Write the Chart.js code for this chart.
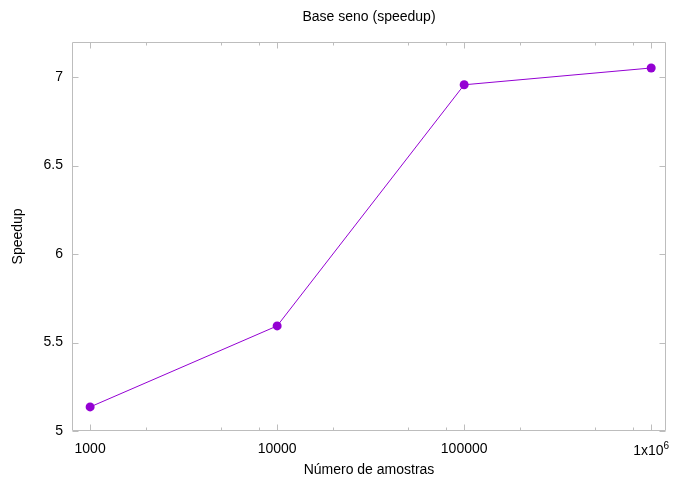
<!DOCTYPE html>
<html>
<head>
<meta charset="utf-8">
<script src="https://cdn.jsdelivr.net/npm/chart.js@4/dist/chart.umd.min.js"></script>
<style>
html,body{margin:0;padding:0;background:#fff;}
#wrap{width:673px;height:479px;}
</style>
</head>
<body>
<div id="wrap"><canvas id="c" width="673" height="479"></canvas></div>
<script>
const samples = [1000, 10000, 100000, 1000000];
const speedup = [5.136, 5.594, 6.957, 7.052];
const xMajorTicks = [1000, 10000, 100000, 1000000];
const xTickLabels = ['1000', '10000', '100000', ''];
const xSupLabelBase = '1x10';
const xSupLabelExp = '6';
const xMinorTicks = [2000, 5000, 8000, 20000, 50000, 80000, 200000, 500000, 800000];
const yTicks = [5, 5.5, 6, 6.5, 7];
const yTickLabels = ['5', '5.5', '6', '6.5', '7'];

const FONT = "'Liberation Sans', Arial, sans-serif";
const FRAME = '#bdbdbd';

const framePlugin = {
  id: 'frame',
  afterDatasetsDraw(chart) {
    const {ctx, chartArea: a, scales: {x, y}} = chart;
    ctx.save();
    ctx.strokeStyle = FRAME;
    ctx.lineWidth = 1;
    ctx.beginPath();
    const L = Math.round(a.left) + 0.5, R = Math.round(a.right) - 0.5;
    const T = Math.round(a.top) + 0.5, B = Math.round(a.bottom) - 0.5;
    ctx.rect(L, T, R - L, B - T);
    const vt = (px, len) => {
      const p = Math.round(px) + 0.5;
      ctx.moveTo(p, B); ctx.lineTo(p, B - len);
      ctx.moveTo(p, T); ctx.lineTo(p, T + len);
    };
    xMajorTicks.forEach(v => vt(x.getPixelForValue(v), 6));
    xMinorTicks.forEach(v => vt(x.getPixelForValue(v), 3));
    yTicks.forEach(v => {
      const p = Math.round(y.getPixelForValue(v)) + 0.5;
      ctx.moveTo(L, p); ctx.lineTo(L + 6, p);
      ctx.moveTo(R, p); ctx.lineTo(R - 6, p);
    });
    ctx.stroke();

    // 1x10^6 label with superscript
    const cx = x.getPixelForValue(xMajorTicks[3]);
    ctx.fillStyle = '#000';
    ctx.textBaseline = 'alphabetic';
    ctx.font = '14px ' + FONT;
    const wb = ctx.measureText(xSupLabelBase).width;
    ctx.font = '10px ' + FONT;
    const we = ctx.measureText(xSupLabelExp).width;
    const startX = cx - (wb + we) / 2;
    const baseY = a.bottom + 24;
    ctx.font = '14px ' + FONT;
    ctx.textAlign = 'left';
    ctx.fillText(xSupLabelBase, startX, baseY);
    ctx.font = '10px ' + FONT;
    ctx.fillText(xSupLabelExp, startX + wb, baseY - 6);
    ctx.restore();
  }
};

new Chart(document.getElementById('c'), {
  type: 'line',
  data: {
    datasets: [{
      data: samples.map((s, i) => ({x: s, y: speedup[i]})),
      borderColor: '#9400D3',
      backgroundColor: '#9400D3',
      borderWidth: 1,
      pointRadius: 4.5,
      pointBorderWidth: 0,
      pointBackgroundColor: '#9400D3',
      tension: 0,
      fill: false
    }]
  },
  options: {
    responsive: false,
    animation: false,
    layout: {padding: {left: 0, right: 7, top: 0, bottom: 0}},
    plugins: {
      legend: {display: false},
      tooltip: {enabled: false},
      title: {
        display: true,
        text: 'Base seno (speedup)',
        fullSize: false,
        color: '#000',
        font: {family: FONT, size: 14, weight: 'normal'},
        padding: {top: 9, bottom: 16}
      }
    },
    scales: {
      x: {
        type: 'logarithmic',
        min: 800,
        max: 1200000,
        grid: {display: false, drawTicks: false},
        border: {display: false},
        afterBuildTicks(scale) { scale.ticks = xMajorTicks.map(v => ({value: v})); },
        afterFit(scale) { scale.height = 48; scale.paddingLeft = 0; scale.paddingRight = 0; },
        ticks: {
          autoSkip: false,
          maxRotation: 0,
          padding: 10,
          color: '#000',
          font: {family: FONT, size: 14},
          callback(value) {
            const i = xMajorTicks.indexOf(value);
            return i >= 0 ? xTickLabels[i] : '';
          }
        },
        title: {
          display: true,
          text: 'Número de amostras',
          color: '#000',
          font: {family: FONT, size: 14},
          padding: {top: 0, bottom: 0}
        }
      },
      y: {
        type: 'linear',
        min: 5,
        max: 7.2,
        grid: {display: false, drawTicks: false},
        border: {display: false},
        afterBuildTicks(scale) { scale.ticks = yTicks.map(v => ({value: v})); },
        afterFit(scale) { scale.width = 72; scale.paddingTop = 0; scale.paddingBottom = 0; },
        ticks: {
          padding: 9,
          color: '#000',
          font: {family: FONT, size: 14},
          callback(value) {
            const i = yTicks.indexOf(value);
            return i >= 0 ? yTickLabels[i] : '';
          }
        },
        title: {
          display: true,
          text: 'Speedup',
          color: '#000',
          font: {family: FONT, size: 14},
          padding: {top: 10, bottom: 0}
        }
      }
    }
  },
  plugins: [framePlugin]
});
</script>
</body>
</html>
